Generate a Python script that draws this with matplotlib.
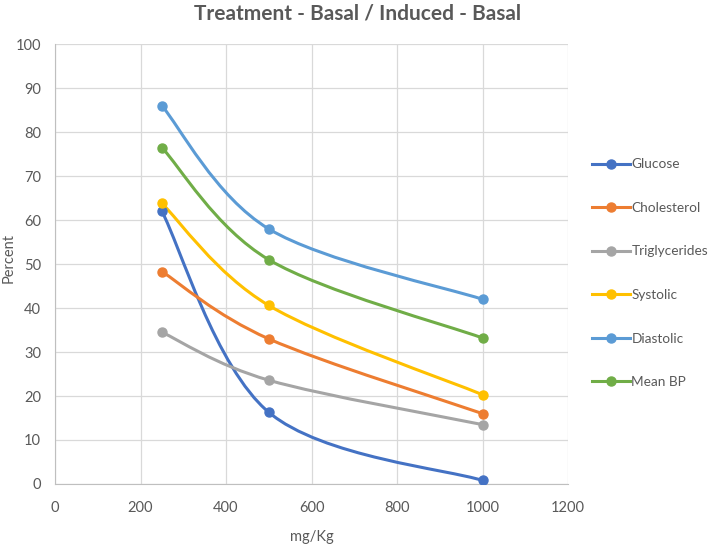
import numpy as np
import matplotlib
matplotlib.use('Agg')
import matplotlib.pyplot as plt
from matplotlib.path import Path
from matplotlib.patches import PathPatch
from matplotlib.lines import Line2D

plt.rcParams['font.family'] = ['Lato', 'DejaVu Sans']

doses = [250, 500, 1000]
glucose = [62.0, 16.3, 0.8]
cholesterol = [48.3, 33.0, 16.0]
triglycerides = [34.5, 23.6, 13.5]
systolic = [63.8, 40.6, 20.3]
diastolic = [86.0, 58.0, 42.0]
mean_bp = [76.5, 51.0, 33.2]

names = ['Glucose', 'Cholesterol', 'Triglycerides', 'Systolic', 'Diastolic', 'Mean BP']
series = [glucose, cholesterol, triglycerides, systolic, diastolic, mean_bp]
colors = ['#4472C4', '#ED7D31', '#A5A5A5', '#FFC000', '#5B9BD5', '#70AD47']


def smooth_path(x, y):
    # Excel-like smoothed line: cubic Bezier segments (Catmull-Rom control points)
    pts = np.column_stack([x, y]).astype(float)
    n = len(pts)
    verts = [pts[0]]
    codes = [Path.MOVETO]
    for i in range(n - 1):
        p_prev = pts[i - 1] if i > 0 else pts[i]
        p_next = pts[i + 2] if i + 2 < n else pts[i + 1]
        c1 = pts[i] + (pts[i + 1] - p_prev) / 6
        c2 = pts[i + 1] - (p_next - pts[i]) / 6
        verts += [c1, c2, pts[i + 1]]
        codes += [Path.CURVE4] * 3
    return Path(verts, codes)


fig = plt.figure(figsize=(7.1, 5.46), dpi=100)
ax = fig.add_axes([0.0775, 0.1136, 0.7225, 0.8054])

handles = []
for name, vals, c in zip(names, series, colors):
    ax.add_patch(PathPatch(smooth_path(doses, vals), facecolor='none',
                           edgecolor=c, lw=2.2, zorder=3, capstyle='round'))
    ax.plot(doses, vals, 'o', color=c, ms=6.5, zorder=4)
    handles.append(Line2D([], [], color=c, lw=2.2, marker='o', ms=6.5))

ax.set_xlim(0, 1200)
ax.set_ylim(0, 100)
ax.set_xticks(range(0, 1201, 200))
ax.set_yticks(range(0, 101, 10))
ax.grid(True, color='#D9D9D9', lw=0.9)
ax.set_axisbelow(True)
for s in ['top', 'right']:
    ax.spines[s].set_visible(False)
for s in ['left', 'bottom']:
    ax.spines[s].set_color('#BFBFBF')
ax.tick_params(length=0, colors='#595959', labelsize=10.5)
ax.tick_params(axis='x', pad=12)
ax.tick_params(axis='y', pad=10)

fig.suptitle('Treatment - Basal / Induced - Basal', fontsize=15, fontweight='bold',
             color='#595959', x=0.503, y=0.993)
ax.set_xlabel('mg/Kg', fontsize=10.5, color='#595959')
ax.xaxis.set_label_coords(0.5, -0.105)
ax.set_ylabel('Percent', fontsize=10.5, color='#595959')
ax.yaxis.set_label_coords(-0.077, 0.513)

leg = fig.legend(handles, names, loc='upper left', bbox_to_anchor=(0.826, 0.72),
                 frameon=False, fontsize=9.8, labelspacing=2.32, handlelength=2.8,
                 handletextpad=0.1, labelcolor='#595959', borderaxespad=0)

fig.savefig('out.png', dpi=100)
